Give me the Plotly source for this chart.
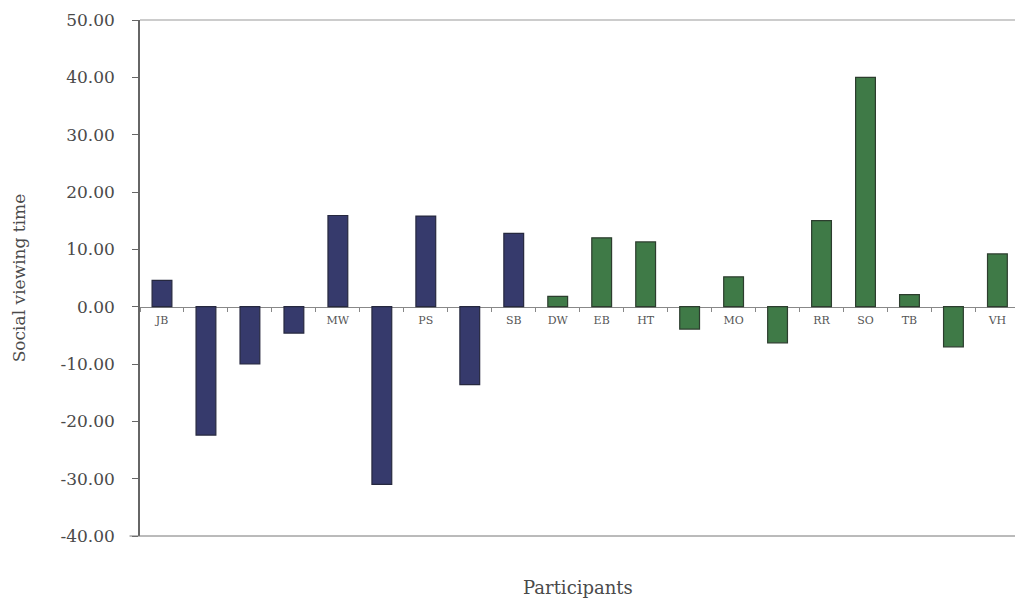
import plotly.graph_objects as go

participants = ["JB", "JC", "KM", "LH", "MW", "NA", "PS", "RB", "SB",
                "DW", "EB", "HT", "KG", "MO", "PB", "RR", "SO", "TB", "UT", "VH"]
social_viewing = [4.6, -22.4, -10.0, -4.6, 15.9, -31.0, 15.8, -13.6, 12.8,
                  1.8, 12.0, 11.3, -3.9, 5.2, -6.3, 15.0, 40.0, 2.1, -7.0, 9.2]
groups = ["A"] * 9 + ["B"] * 11
y_tick_vals = [50, 40, 30, 20, 10, 0, -10, -20, -30, -40]
y_tick_text = ["50.00", "40.00", "30.00", "20.00", "10.00", "0.00",
               "-10.00", "-20.00", "-30.00", "-40.00"]

fill = {"A": "#363a6c", "B": "#3f7a47"}
edge = {"A": "#26283f", "B": "#2c3d2e"}

fig = go.Figure(go.Bar(
    x=participants, y=social_viewing,
    marker=dict(color=[fill[g] for g in groups],
                line=dict(color=[edge[g] for g in groups], width=1.2)),
    width=0.45,
))

serif = "DejaVu Serif, Liberation Serif, serif"
ymin, ymax = -40, 50
fig.update_layout(
    width=1015, height=606,
    margin=dict(l=140, r=0, t=20, b=70),
    plot_bgcolor="white", paper_bgcolor="white",
    showlegend=False,
    font=dict(family=serif, color="#4a4a4a"),
    xaxis=dict(
        type="category", range=[-0.5, 19.4],
        anchor="free", position=(0 - ymin) / (ymax - ymin),
        showline=True, linecolor="#888", linewidth=1,
        ticks="outside", tickson="boundaries", ticklen=4, tickcolor="#888",
        tickfont=dict(size=11, color="#555"), ticklabelstandoff=3,
        showgrid=False, zeroline=False, layer="below traces",
        title=None,
    ),
    yaxis=dict(
        range=[ymin, ymax], tickvals=y_tick_vals, ticktext=y_tick_text,
        showline=True, linecolor="#666", linewidth=1.5,
        ticks="outside", ticklen=6, tickcolor="#666",
        tickfont=dict(size=17, color="#4a4a4a"), ticklabelstandoff=14,
        showgrid=False, zeroline=False,
        title=dict(text="Social viewing time", font=dict(size=17, color="#4a4a4a"), standoff=30),
    ),
    shapes=[
        dict(type="line", xref="paper", yref="paper", x0=0, x1=1, y0=1, y1=1,
             line=dict(color="#bbb", width=1.5)),
        dict(type="line", xref="paper", yref="paper", x0=-0.012, x1=1, y0=0, y1=0,
             line=dict(color="#777", width=1)),
    ],
    annotations=[
        dict(text="Participants", xref="paper", yref="paper", x=0.5, y=-0.1,
             xanchor="center", yanchor="middle", showarrow=False,
             font=dict(size=18, color="#4a4a4a", family=serif)),
    ],
)

fig.write_html("out.html", config={"displayModeBar": False},
               post_script="document.body.style.margin='0';")
